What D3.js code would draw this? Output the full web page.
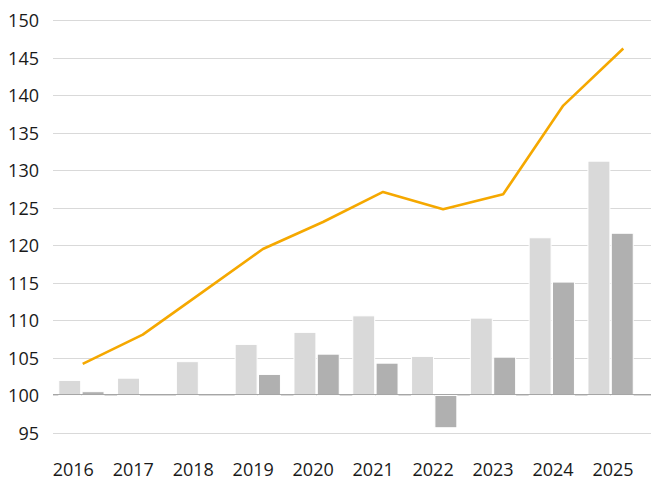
<!DOCTYPE html>
<html>
<head>
<meta charset="utf-8">
<script src="https://cdn.jsdelivr.net/npm/d3@7"></script>
<style>
  body { margin: 0; background: #fff; }
  text { font-family: "Open Sans", sans-serif; font-size: 18px; fill: #1a1a1a; }
</style>
</head>
<body>
<script>
const years = ["2016", "2017", "2018", "2019", "2020", "2021", "2022", "2023", "2024", "2025"];
const lightBars = [102.0, 102.3, 104.5, 106.8, 108.4, 110.6, 105.2, 110.3, 121.0, 131.2];
const darkBars = [100.5, null, null, 102.8, 105.5, 104.3, 95.7, 105.1, 115.1, 121.6];
const lineValues = [104.2, 108.1, 113.8, 119.5, 123.1, 127.1, 124.8, 126.8, 138.6, 146.2];
const yTicks = [95, 100, 105, 110, 115, 120, 125, 130, 135, 140, 145, 150];

const width = 651;
const height = 477;
const baseline = 100;

const svg = d3.select("body").append("svg")
  .attr("width", width)
  .attr("height", height);

const y = d3.scaleLinear().domain([95, 150]).range([433, 20]);

// bars, line and labels sit on slightly different spacings in the original
const xBand = d3.scaleBand().domain(years).range([52, 640]).paddingInner(0.23).paddingOuter(0.115);
const xInner = d3.scaleBand().domain(["light", "dark"]).range([0, xBand.bandwidth()]).paddingInner(0.06);
const xLine = d3.scalePoint().domain(years).range([82.7, 623.3]);
const xLabel = d3.scalePoint().domain(years).range([73.3, 613]);

// gridlines
svg.append("g").selectAll("line")
  .data(yTicks)
  .join("line")
  .attr("x1", 53)
  .attr("x2", width)
  .attr("y1", d => Math.round(y(d)) + 0.5)
  .attr("y2", d => Math.round(y(d)) + 0.5)
  .attr("stroke", "#d9d9d9")
  .attr("stroke-width", 1);

// y tick labels
svg.append("g").selectAll("text")
  .data(yTicks)
  .join("text")
  .attr("x", 39)
  .attr("y", d => y(d))
  .attr("text-anchor", "end")
  .attr("dominant-baseline", "central")
  .text(d => d);

// bars
const rows = [];
years.forEach((yr, i) => {
  rows.push({ year: yr, key: "light", value: lightBars[i] });
  if (darkBars[i] !== null) rows.push({ year: yr, key: "dark", value: darkBars[i] });
});

svg.append("g").selectAll("rect")
  .data(rows)
  .join("rect")
  .attr("x", d => xBand(d.year) + xInner(d.key))
  .attr("width", xInner.bandwidth())
  .attr("y", d => y(Math.max(d.value, baseline)))
  .attr("height", d => Math.abs(y(d.value) - y(baseline)))
  .attr("fill", d => d.key === "light" ? "#d9d9d9" : "#b0b0b0")
  .attr("stroke", "#fff")
  .attr("stroke-width", 1);

// axis line at 100
svg.append("line")
  .attr("x1", 53)
  .attr("x2", width)
  .attr("y1", Math.round(y(baseline)) - 0.5)
  .attr("y2", Math.round(y(baseline)) - 0.5)
  .attr("stroke", "#a6a6a6")
  .attr("stroke-width", 1.2);

// orange line
const line = d3.line()
  .x((d, i) => xLine(years[i]))
  .y(d => y(d));

svg.append("path")
  .datum(lineValues)
  .attr("d", line)
  .attr("fill", "none")
  .attr("stroke", "#f5a800")
  .attr("stroke-width", 2.6)
  .attr("stroke-linejoin", "round");

// x labels
svg.append("g").selectAll("text")
  .data(years)
  .join("text")
  .attr("x", d => xLabel(d))
  .attr("y", 468.5)
  .attr("text-anchor", "middle")
  .attr("dominant-baseline", "central")
  .text(d => d);
</script>
</body>
</html>
